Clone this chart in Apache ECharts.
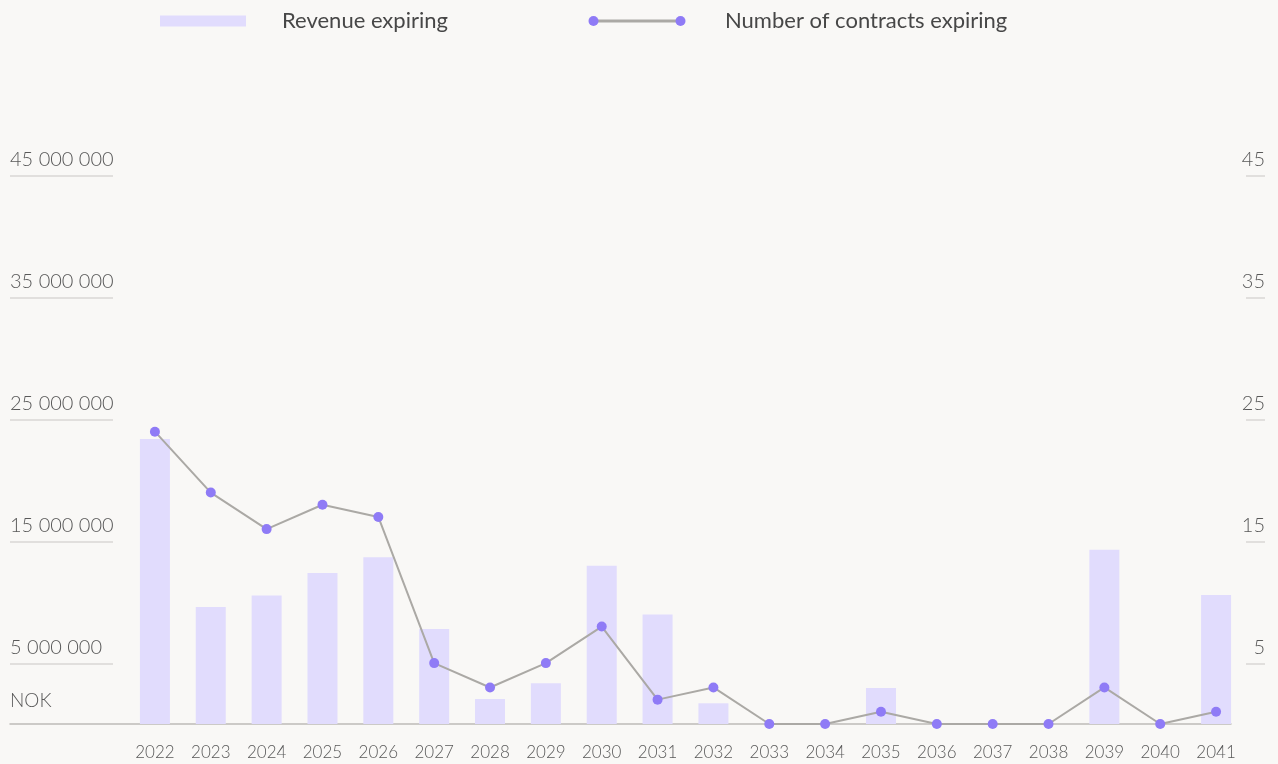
<!DOCTYPE html>
<html>
<head>
<meta charset="utf-8">
<script src="https://cdn.jsdelivr.net/npm/echarts@6/dist/echarts.min.js"></script>
<style>
  html, body { margin: 0; padding: 0; background: #f9f8f6; }
  #chart { width: 1278px; height: 764px; }
</style>
</head>
<body>
<div id="chart"></div>
<script>
const years = ['2022','2023','2024','2025','2026','2027','2028','2029','2030','2031',
               '2032','2033','2034','2035','2036','2037','2038','2039','2040','2041'];
// NOK
const revenueExpiring = [23400000, 9600000, 10550000, 12400000, 13700000, 7800000, 2050000, 3350000,
                         13000000, 9000000, 1700000, 0, 0, 2950000, 0, 0, 0, 14300000, 0, 10600000];
const contractsExpiring = [24, 19, 16, 18, 17, 5, 3, 5, 8, 2, 3, 0, 0, 1, 0, 0, 0, 3, 0, 1];
const leftTicks = [5000000, 15000000, 25000000, 35000000, 45000000];
const rightTicks = [5, 15, 25, 35, 45];

const font = 'Lato';
const textGray = '#595959';
const barColor = '#e1dcfd';
const dotColor = '#8f7bf6';
const lineColor = '#aba9a5';

const fmtSpaces = (v) => String(v).replace(/\B(?=(\d{3})+(?!\d))/g, ' ');

// legend icon: grey line with a dot at each end
const lineIcon = 'image://data:image/svg+xml;utf8,' + encodeURIComponent(
  '<svg xmlns="http://www.w3.org/2000/svg" width="98" height="11">' +
  '<line x1="5.5" y1="5.5" x2="92.5" y2="5.5" stroke="' + lineColor + '" stroke-width="3"/>' +
  '<circle cx="5.5" cy="5.5" r="5" fill="' + dotColor + '"/>' +
  '<circle cx="92.5" cy="5.5" r="5" fill="' + dotColor + '"/></svg>');

const legendText = { fontFamily: font, fontSize: 22, fontWeight: 400, color: '#474747' };

const chart = echarts.init(document.getElementById('chart'));

// grid 0: plot, grid 1: left label strip, grid 2: right label strip, grid 3: baseline
chart.setOption({
  backgroundColor: '#f9f8f6',
  animation: false,
  textStyle: { fontFamily: font },
  title: {
    text: 'NOK', left: 5, top: 686,
    textStyle: { fontFamily: font, fontSize: 19, fontWeight: 300, color: textGray }
  },
  legend: [
    {
      left: 155, top: 5, itemWidth: 86, itemHeight: 11,
      textStyle: Object.assign({ padding: [0, 0, 0, 31] }, legendText),
      data: [{ name: 'Revenue expiring', icon: 'rect' }]
    },
    {
      left: 583, top: 5, itemWidth: 98, itemHeight: 11,
      textStyle: Object.assign({ padding: [0, 0, 0, 34] }, legendText),
      data: [{ name: 'Number of contracts expiring', icon: lineIcon }]
    }
  ],
  grid: [
    { left: 127, right: 34, top: 115, bottom: 40 },
    { left: 10, width: 103, top: 176, bottom: 100 },
    { left: 1246, width: 19, top: 176, bottom: 100 },
    { left: 10, right: 47, top: 115, bottom: 40 }
  ],
  xAxis: [
    {
      type: 'category', gridIndex: 0, data: years,
      axisLine: { show: false }, axisTick: { show: false },
      axisLabel: { fontFamily: font, fontSize: 17, fontWeight: 300, color: textGray, margin: 20 }
    },
    { type: 'value', gridIndex: 1, show: false },
    { type: 'value', gridIndex: 2, show: false },
    {
      type: 'value', gridIndex: 3,
      axisLine: { show: true, lineStyle: { color: '#bdbbb8', width: 1.5 } },
      axisTick: { show: false }, axisLabel: { show: false }, splitLine: { show: false }
    }
  ],
  yAxis: [
    { type: 'value', gridIndex: 0, min: 0, max: 50000000, show: false },
    { type: 'value', gridIndex: 0, min: 0, max: 50, show: false, position: 'right' },
    {
      type: 'value', gridIndex: 1, position: 'left',
      min: leftTicks[0], max: leftTicks[leftTicks.length - 1], interval: 10000000,
      axisLine: { show: false }, axisTick: { show: false },
      splitLine: { lineStyle: { color: '#d9d7d4', width: 1.5 } },
      axisLabel: {
        inside: true, margin: 0, verticalAlign: 'bottom', padding: [0, 0, 6, 0],
        fontFamily: font, fontSize: 20, fontWeight: 300, color: textGray,
        formatter: (v) => fmtSpaces(v)
      }
    },
    {
      type: 'value', gridIndex: 2, position: 'right',
      min: rightTicks[0], max: rightTicks[rightTicks.length - 1], interval: 10,
      axisLine: { show: false }, axisTick: { show: false },
      splitLine: { lineStyle: { color: '#d9d7d4', width: 1.5 } },
      axisLabel: {
        inside: true, margin: 0, verticalAlign: 'bottom', padding: [0, 0, 6, 0],
        fontFamily: font, fontSize: 20, fontWeight: 300, color: textGray
      }
    },
    { type: 'value', gridIndex: 3, min: 0, max: 1, show: false }
  ],
  series: [
    {
      name: 'Revenue expiring', type: 'bar',
      xAxisIndex: 0, yAxisIndex: 0,
      barWidth: 30,
      itemStyle: { color: barColor },
      data: revenueExpiring
    },
    {
      name: 'Number of contracts expiring', type: 'line',
      xAxisIndex: 0, yAxisIndex: 1,
      symbol: 'circle', symbolSize: 10,
      lineStyle: { color: lineColor, width: 2 },
      itemStyle: { color: dotColor },
      z: 5,
      data: contractsExpiring
    }
  ]
});
</script>
</body>
</html>
